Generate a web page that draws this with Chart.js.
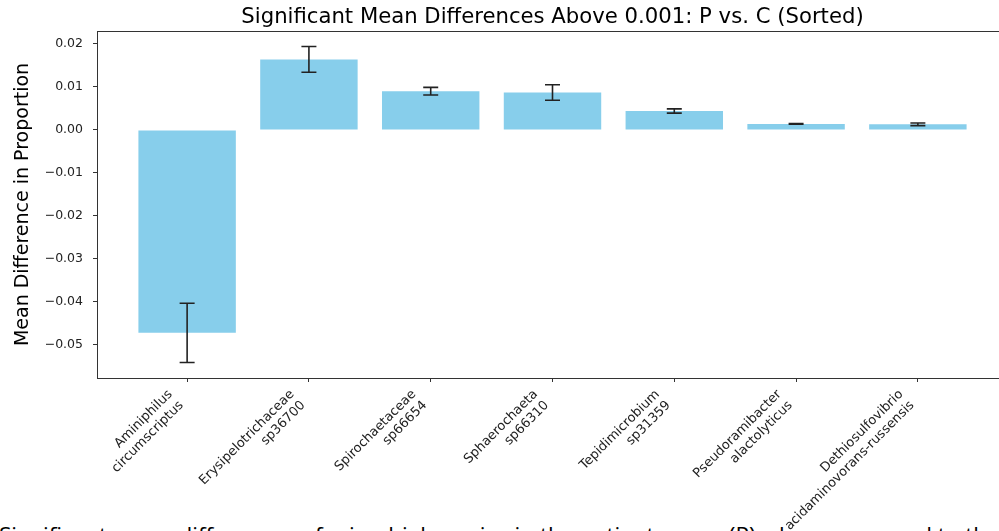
<!DOCTYPE html>
<html>
<head>
<meta charset="utf-8">
<script src="https://cdn.jsdelivr.net/npm/chart.js@4.4.1/dist/chart.umd.min.js"></script>
<style>
  html, body { margin: 0; padding: 0; background: #fff; overflow: hidden; }
  #wrap { position: relative; width: 999px; height: 531px; overflow: hidden; }
  #caption {
    position: absolute; left: -1px; top: 524px; white-space: nowrap;
    font-family: "Open Sans", sans-serif; font-size: 22.5px; line-height: 1; color: #000;
  }
  #box { position: absolute; left: 0; top: 0; width: 1010px; height: 531px; }
</style>
</head>
<body>
<div id="wrap">
  <div id="caption">Significant mean differences of microbial species in the patient group (P) when compared to the control group (C)</div>
  <div id="box"><canvas id="chart"></canvas></div>
</div>
<script>
// Kategorien (zweizeilig) und Werte
const nameLines = [
    ["Aminiphilus", "circumscriptus"],
    ["Erysipelotrichaceae", "sp36700"],
    ["Spirochaetaceae", "sp66654"],
    ["Sphaerochaeta", "sp66310"],
    ["Tepidimicrobium", "sp31359"],
    ["Pseudoramibacter", "alactolyticus"],
    ["Dethiosulfovibrio", "acidaminovorans-russensis"]
];
const meanDiffs = [-0.0472, 0.0164, 0.0090, 0.0087, 0.0044, 0.0014, 0.0013];
const errors = [0.0069, 0.0030, 0.0009, 0.0018, 0.0005, 0.0001, 0.0003];
const yTicks = [-0.05, -0.04, -0.03, -0.02, -0.01, 0.00, 0.01, 0.02];

const titleText = "Significant Mean Differences Above 0.001: P vs. C (Sorted)";
const axisColor = "#333";

// Titel ueber der Zeichenflaeche zentriert
const titlePlugin = {
    id: "centerTitle",
    afterDraw(chart) {
        const ctx = chart.ctx;
        const area = chart.chartArea;
        ctx.save();
        ctx.fillStyle = "#000";
        ctx.font = "21.2px 'DejaVu Sans'";
        ctx.textAlign = "center";
        ctx.textBaseline = "middle";
        ctx.fillText(titleText, (area.left + area.right) / 2, 17);
        ctx.restore();
    }
};

// x-Beschriftung wie bei matplotlib (rotation=45, ha='right')
const xLabelPlugin = {
    id: "xLabels",
    afterDraw(chart) {
        const ctx = chart.ctx;
        const xs = chart.scales.x;
        const lineH = 15.6;
        const s = Math.SQRT1_2;
        const anchorY = chart.chartArea.bottom + 9;
        ctx.save();
        ctx.fillStyle = "#222";
        ctx.font = "13px 'DejaVu Sans'";
        ctx.textAlign = "right";
        ctx.textBaseline = "top";
        nameLines.forEach((lines, i) => {
            const w = Math.max(...lines.map((l) => ctx.measureText(l).width));
            const h = lines.length * lineH;
            const ax = xs.getPixelForValue(i);
            ctx.save();
            ctx.translate(ax - s * (w + h), anchorY + s * w);
            ctx.rotate(-Math.PI / 4);
            lines.forEach((l, j) => ctx.fillText(l, w, j * lineH + 1));
            ctx.restore();
        });
        ctx.restore();
    }
};

// Rahmen und Fehlerbalken
const errorBarPlugin = {
    id: "errorBars",
    afterDatasetsDraw(chart) {
        const ctx = chart.ctx;
        const xs = chart.scales.x;
        const ys = chart.scales.y;
        ctx.save();
        ctx.strokeStyle = "#222";
        ctx.lineWidth = 1.6;
        meanDiffs.forEach((m, i) => {
            const x = xs.getPixelForValue(i);
            const y1 = ys.getPixelForValue(m - errors[i]);
            const y2 = ys.getPixelForValue(m + errors[i]);
            ctx.beginPath();
            ctx.moveTo(x, y1);
            ctx.lineTo(x, y2);
            ctx.moveTo(x - 7.5, y1);
            ctx.lineTo(x + 7.5, y1);
            ctx.moveTo(x - 7.5, y2);
            ctx.lineTo(x + 7.5, y2);
            ctx.stroke();
        });
        const a = chart.chartArea;
        ctx.strokeStyle = axisColor;
        ctx.lineWidth = 1;
        ctx.strokeRect(a.left + 0.5, a.top + 0.5, a.right - a.left - 1, a.bottom - a.top);
        ctx.restore();
    }
};

const ctx = document.getElementById("chart");
new Chart(ctx, {
    type: "bar",
    data: {
        datasets: [{
            data: meanDiffs.map((v, i) => ({ x: i, y: v })),
            backgroundColor: "#87CEEB",
            borderWidth: 0,
            categoryPercentage: 1,
            barPercentage: 0.8
        }]
    },
    options: {
        responsive: true,
        maintainAspectRatio: false,
        animation: false,
        layout: { padding: { left: 0, right: 2, top: 31, bottom: 0 } },
        plugins: {
            legend: { display: false },
            tooltip: { enabled: false }
        },
        scales: {
            x: {
                type: "linear",
                offset: false,
                min: -0.74,
                max: 6.74,
                afterBuildTicks: (scale) => {
                    scale.ticks = nameLines.map((_, i) => ({ value: i }));
                },
                afterFit: (scale) => { scale.height = 153; },
                grid: { offset: false, drawOnChartArea: false, drawTicks: true, tickLength: 4, color: axisColor },
                border: { display: false },
                ticks: { display: false, autoSkip: false }
            },
            y: {
                min: -0.0577,
                max: 0.0230,
                afterBuildTicks: (scale) => {
                    scale.ticks = yTicks.map((v) => ({ value: v }));
                },
                afterFit: (scale) => { scale.width = 97; },
                grid: { drawOnChartArea: false, drawTicks: true, tickLength: 4, color: axisColor },
                border: { display: false },
                ticks: {
                    padding: 10,
                    color: "#222",
                    font: { family: "DejaVu Sans", size: 12.5 },
                    callback: (value) => (value < 0 ? "\u2212" : "") + Math.abs(value).toFixed(2)
                },
                title: {
                    display: true,
                    text: "Mean Difference in Proportion",
                    color: "#000",
                    font: { family: "DejaVu Sans", size: 19 },
                    padding: { top: 12, bottom: 4 }
                }
            }
        }
    },
    plugins: [titlePlugin, errorBarPlugin, xLabelPlugin]
});
</script>
</body>
</html>
